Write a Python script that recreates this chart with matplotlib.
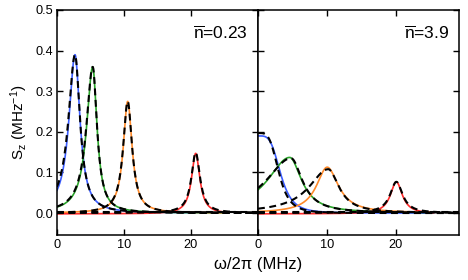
import numpy as np
import matplotlib
matplotlib.use("Agg")
import matplotlib.pyplot as plt

plt.rcParams['font.family'] = ['Liberation Sans', 'DejaVu Sans']
plt.rcParams['mathtext.fontset'] = 'custom'
plt.rcParams['mathtext.rm'] = 'Liberation Sans'
plt.rcParams['mathtext.it'] = 'Liberation Sans:italic'

colors = ['#3a5cff', '#2aa52a', '#ff8a2a', '#ff2a2a']

# ---- left panel (n = 0.23): peak centre, height, left/right half-widths, shape exponent, offset
left_center = [2.69, 5.33, 10.55, 20.7]
left_height = [0.39, 0.36, 0.275, 0.149]
left_wl = [1.1, 1.1, 0.8, 0.75]
left_wr = [0.9, 0.78, 0.8, 0.75]
left_p = [2, 2, 2, 2]
left_off = [0.0, 0.0, 0.0, -0.002]

left_d_center = [2.69, 5.33, 10.55, 20.7]
left_d_height = [0.39, 0.36, 0.275, 0.149]
left_d_wl = [1.2, 1.15, 0.82, 0.78]
left_d_wr = [0.9, 0.78, 0.8, 0.78]
left_d_p = [2, 2, 2, 2]
left_d_off = [0.0, 0.0, 0.0, 0.0]

# ---- right panel (n = 3.9)
right_center = [0.0, 4.6, 10.05, 20.1]
right_height = [0.19, 0.137, 0.113, 0.079]
right_wl = [3.32, 3.9, 1.9, 1.05]
right_wr = [3.32, 2.1, 2.0, 1.05]
right_p = [4, 2, 2, 2]
right_off = [0.0, 0.0, 0.0, -0.002]

right_d_center = [0.0, 4.8, 10.2, 20.1]
right_d_height = [0.197, 0.135, 0.108, 0.077]
right_d_wl = [3.05, 4.4, 3.4, 1.1]
right_d_wr = [3.05, 2.0, 1.9, 1.1]
right_d_p = [4, 2, 2, 2]
right_d_off = [0.0, 0.0, 0.0, 0.0]

baseline_dash = 0.003
labels = [r'$\overline{\mathrm{n}}$=0.23', r'$\overline{\mathrm{n}}$=3.9']
xlims = [30.0, 29.2]


def peak(w, c, h, wl, wr, p, off):
    width = np.where(w < c, wl, wr)
    return off + h / (1.0 + np.abs((w - c) / width) ** p)


fig = plt.figure(figsize=(4.68, 2.80), dpi=100)
axL = fig.add_axes([57 / 468, 45 / 280, 201 / 468, 225 / 280])
axR = fig.add_axes([258 / 468, 45 / 280, 201 / 468, 225 / 280])

w_solid = np.linspace(0, 25.5, 600)
w_dash = np.linspace(0, 30, 700)

panels = [
    (axL, (left_center, left_height, left_wl, left_wr, left_p, left_off),
     (left_d_center, left_d_height, left_d_wl, left_d_wr, left_d_p, left_d_off)),
    (axR, (right_center, right_height, right_wl, right_wr, right_p, right_off),
     (right_d_center, right_d_height, right_d_wl, right_d_wr, right_d_p, right_d_off)),
]

for i, (ax, sol, dsh) in enumerate(panels):
    for k in range(4):
        ax.plot(w_solid, peak(w_solid, sol[0][k], sol[1][k], sol[2][k], sol[3][k], sol[4][k], sol[5][k]),
                color=colors[k], lw=1.2, zorder=2)
    ax.plot(w_dash, np.full_like(w_dash, baseline_dash), color='black', lw=1.5,
            dashes=(3.3, 2.2), zorder=3)
    for k in range(4):
        ax.plot(w_dash, peak(w_dash, dsh[0][k], dsh[1][k], dsh[2][k], dsh[3][k], dsh[4][k], dsh[5][k]),
                color='black', lw=1.5, dashes=(3.3, 2.2), zorder=3)
    ax.set_xlim(0, xlims[i])
    ax.set_ylim(-0.054, 0.5)
    ax.set_xticks([0, 10, 20])
    ax.set_yticks([0.0, 0.1, 0.2, 0.3, 0.4, 0.5])
    ax.tick_params(direction='in', length=4, width=1.0, top=True, right=True,
                   labelsize=9.2, pad=3)
    for s in ax.spines.values():
        s.set_linewidth(1.1)
    ax.text(0.95, 0.935, labels[i], transform=ax.transAxes, ha='right', va='top',
            fontsize=12.5)

axL.set_yticklabels(['0.0', '0.1', '0.2', '0.3', '0.4', '0.5'])
axR.set_yticklabels([])
axL.set_ylabel(r'$\mathrm{S_z\ (MHz^{-1})}$', fontsize=11, labelpad=4)
fig.text(258 / 468, 8 / 280, 'ω/2π (MHz)', ha='center', va='bottom', fontsize=12)

fig.savefig('out.png', dpi=100)
